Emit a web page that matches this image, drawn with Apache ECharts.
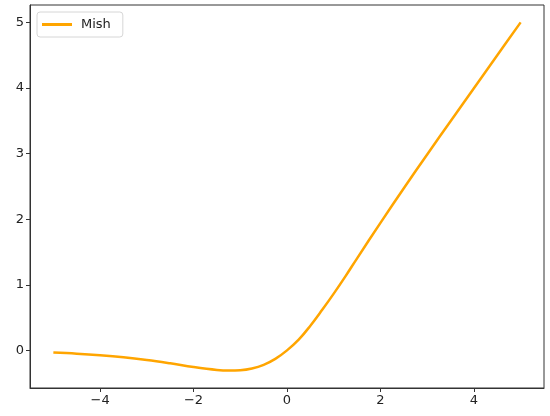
<!DOCTYPE html>
<html lang="en">
<head>
    <meta charset="UTF-8">
    <title>Mish</title>
    <script src="https://cdn.jsdelivr.net/npm/echarts@6/dist/echarts.min.js"></script>
    <style>
        html, body { margin: 0; padding: 0; background: #fff; }
        #main { width: 550px; height: 416px; }
    </style>
</head>
<body>
<div id="main"></div>
<script>
    // values
    var xs = [-5, -4.5, -4, -3.5, -3, -2.5, -2, -1.5, -1.25, -1, -0.75, -0.5, -0.25, 0,
        0.25, 0.5, 0.75, 1, 1.25, 1.5, 2, 2.5, 3, 3.5, 4, 4.5, 5];
    var mish = [-0.034, -0.050, -0.073, -0.104, -0.146, -0.197, -0.253, -0.298, -0.308, -0.303,
        -0.276, -0.221, -0.130, 0, 0.163, 0.375, 0.614, 0.865, 1.128, 1.403, 1.944, 2.471, 2.987,
        3.494, 3.997, 4.499, 5.0];
    var xTicks = [-4, -2, 0, 2, 4];
    var yTicks = [0, 1, 2, 3, 4, 5];

    var points = xs.map(function (x, i) { return [x, mish[i]]; });
    var font = 'DejaVu Sans';

    var chart = echarts.init(document.getElementById('main'));
    chart.setOption({
        animation: false,
        grid: {
            left: 30, right: 6, top: 5, bottom: 28,
            show: true, borderColor: '#333', borderWidth: 1
        },
        legend: {
            left: 37, top: 12,
            orient: 'vertical',
            data: ['Mish'],
            itemWidth: 30, itemHeight: 3, itemGap: 4,
            padding: [6, 12, 6, 5],
            borderColor: '#d6d6d6', borderWidth: 1, borderRadius: 3,
            backgroundColor: '#fff',
            icon: 'rect',
            textStyle: { fontFamily: font, fontSize: 13, color: '#222', padding: [0, 0, 0, 4] }
        },
        xAxis: {
            type: 'value', min: -5.5, max: 5.5,
            splitLine: { show: false },
            axisLine: { show: true, onZero: false, lineStyle: { color: '#333' } },
            axisTick: { show: true, length: 4, lineStyle: { color: '#333' }, customValues: xTicks },
            axisLabel: {
                customValues: xTicks, fontFamily: font, fontSize: 13, color: '#222', margin: 6,
                formatter: function (v) { return String(v).replace('-', '\u2212'); }
            }
        },
        yAxis: {
            type: 'value', min: -0.574, max: 5.265,
            splitLine: { show: false },
            axisLine: { show: true, onZero: false, lineStyle: { color: '#333' } },
            axisTick: { show: true, length: 4, lineStyle: { color: '#333' }, customValues: yTicks },
            axisLabel: {
                customValues: yTicks, fontFamily: font, fontSize: 13, color: '#222', margin: 6
            }
        },
        series: [{
            name: 'Mish',
            type: 'line',
            data: points,
            smooth: 0.4,
            showSymbol: false,
            color: '#FFA500',
            lineStyle: { width: 2.5, color: '#FFA500' }
        }]
    });
</script>
</body>
</html>
